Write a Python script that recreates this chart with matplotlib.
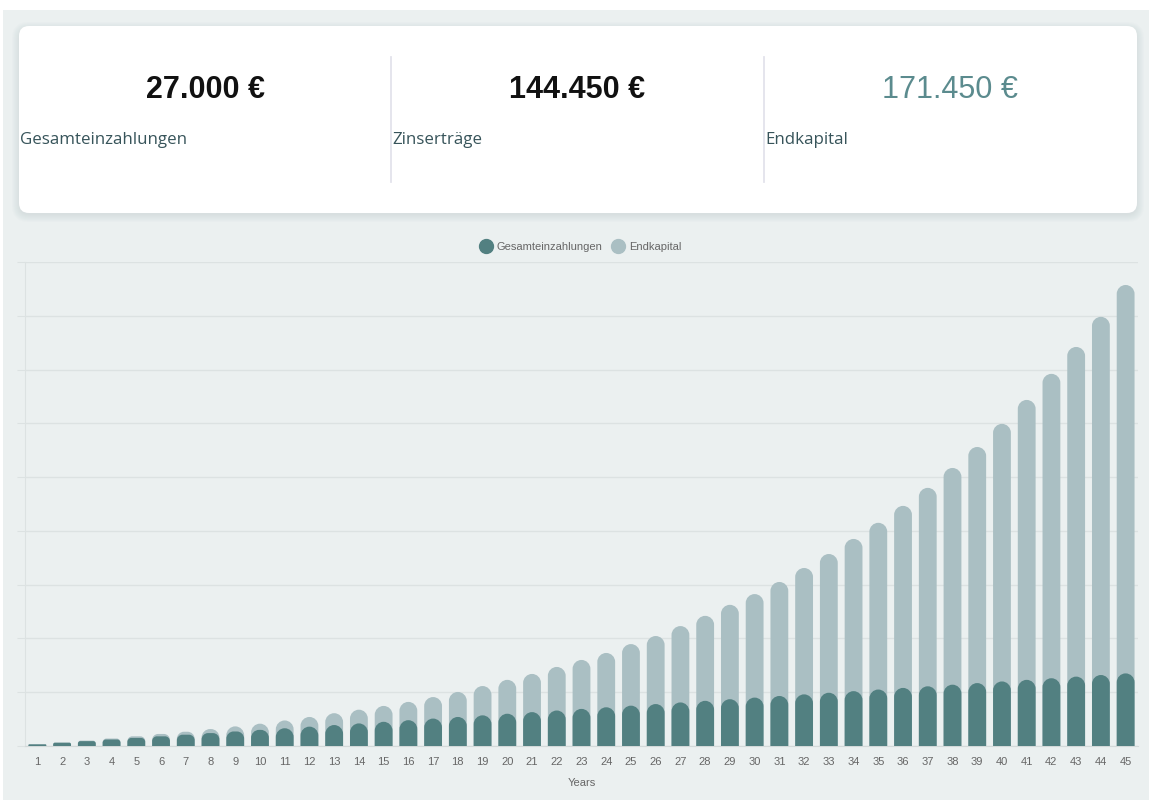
import matplotlib
matplotlib.use('Agg')
import matplotlib.pyplot as plt
from matplotlib.path import Path
from matplotlib.patches import PathPatch, FancyBboxPatch, Rectangle
from matplotlib.lines import Line2D

# data
years = list(range(1, 46))
gesamteinzahlungen = [600, 1200, 1800, 2400, 3000, 3600, 4200, 4800, 5400, 6000,
                      6600, 7200, 7800, 8400, 9000, 9600, 10200, 10800, 11400, 12000,
                      12600, 13200, 13800, 14400, 15000, 15600, 16200, 16800, 17400, 18000,
                      18600, 19200, 19800, 20400, 21000, 21600, 22200, 22800, 23400, 24000,
                      24600, 25200, 25800, 26400, 27000]
endkapital = [630, 1290, 2000, 2770, 3600, 4480, 5300, 6300, 7300, 8300,
              9500, 10800, 12200, 13500, 14900, 16400, 18200, 20100, 22300, 24600,
              26800, 29400, 32000, 34600, 37900, 40900, 44600, 48400, 52500, 56500,
              61000, 66200, 71400, 77000, 83000, 89300, 96000, 103400, 111200, 119800,
              128700, 138400, 148400, 159600, 171450]
summary_values = ['27.000 €', '144.450 €', '171.450 €']
summary_labels = ['Gesamteinzahlungen', 'Zinserträge', 'Endkapital']
legend_labels = ['Gesamteinzahlungen', 'Endkapital']

DARK = '#528081'
LIGHT = '#aabfc3'
BG = '#ebf0f0'
GRID = '#dce2e2'
TICK = '#666666'

W, H = 1149, 800
fig = plt.figure(figsize=(W / 100, H / 100), dpi=100, facecolor=BG)

# overlay in pixel units for the summary card
ov = fig.add_axes([0, 0, 1, 1])
ov.set_xlim(0, W)
ov.set_ylim(H, 0)
ov.axis('off')
ov.add_patch(Rectangle((0, 0), W, 10, fc='white', ec='none'))
ov.add_patch(Rectangle((0, 0), 3, H, fc='white', ec='none'))
for i in range(8):
    ov.add_patch(FancyBboxPatch((19 - i, 27 - i + 2), 1118 + 2 * i, 186 + 2 * i,
                                boxstyle=f'round,pad=0,rounding_size={10 + i}',
                                fc='#8d9a9d', ec='none', alpha=0.025))
ov.add_patch(FancyBboxPatch((19, 26), 1118, 187, boxstyle='round,pad=0,rounding_size=10',
                            fc='white', ec='none'))
for xd in [391, 764]:
    ov.plot([xd, xd], [57, 182], color='#e3e3ec', lw=1.3)

num_x = [205, 577, 950]
lab_x = [20, 392, 765]
num_colors = ['#111111', '#111111', '#5b8b8e']
num_weights = ['bold', 'bold', 'normal']
for v, lab, nx, lx, c, fw in zip(summary_values, summary_labels, num_x, lab_x, num_colors, num_weights):
    ov.text(nx, 90, v, ha='center', va='center', fontsize=22, color=c, fontweight=fw,
            family='Liberation Sans')
    ov.text(lx, 140, lab, ha='left', va='center', fontsize=12.2, color='#37545a',
            family='Open Sans')

# bar chart
left, right, top, bottom = 25, 1138, 262, 746
ax = fig.add_axes([left / W, 1 - bottom / H, (right - left) / W, (bottom - top) / H])
ax.set_facecolor('none')
ax.set_xlim(0.5, 45.5)
ax.set_ylim(0, 180000)
sx = (right - left) / 45.0
sy = (bottom - top) / 180000.0

K = 0.5523


def rounded(xc, w, h):
    x0, x1 = xc - w / 2, xc + w / 2
    r = min(w * sx / 2, h * sy / 2)
    rx, ry = r / sx, r / sy
    verts = [(x0, 0), (x0, h - ry), (x0, h - ry + K * ry), (x0 + rx - K * rx, h), (x0 + rx, h),
             (x1 - rx, h), (x1 - rx + K * rx, h), (x1, h - ry + K * ry), (x1, h - ry),
             (x1, 0), (x0, 0)]
    codes = [Path.MOVETO, Path.LINETO, Path.CURVE4, Path.CURVE4, Path.CURVE4,
             Path.LINETO, Path.CURVE4, Path.CURVE4, Path.CURVE4, Path.LINETO, Path.CLOSEPOLY]
    return Path(verts, codes)


for vals, col, z in [(endkapital, LIGHT, 2), (gesamteinzahlungen, DARK, 3)]:
    bars = ax.bar(years, vals, width=0.72, color=col, zorder=z)
    for b in bars:
        b.set_visible(False)
        ax.add_patch(PathPatch(rounded(b.get_x() + b.get_width() / 2, b.get_width(), b.get_height()),
                               fc=col, ec='none', zorder=z))

ax.set_yticks(range(0, 180001, 20000))
ax.yaxis.grid(True, color=GRID, lw=1)
ax.set_axisbelow(True)
ax.tick_params(axis='y', length=6, color=GRID, labelleft=False)
ax.set_xticks(years)
ax.set_xticklabels([str(y) for y in years], fontsize=8, color=TICK, family='Liberation Sans')
ax.tick_params(axis='x', length=0, pad=8)
for s in ['top', 'right']:
    ax.spines[s].set_visible(False)
ax.spines['left'].set_color(GRID)
ax.spines['bottom'].set_color('#d3d9d9')

fig.text((left + right) / 2 / W, 1 - 783 / H, 'Years', ha='center', va='center',
         fontsize=8, color=TICK, family='Liberation Sans')

handles = [Line2D([], [], marker='o', ls='none', ms=10, mfc=DARK, mec=DARK),
           Line2D([], [], marker='o', ls='none', ms=10, mfc=LIGHT, mec=LIGHT)]
fig.legend(handles, legend_labels, loc='center', bbox_to_anchor=(581 / W, 1 - 247 / H), ncol=2,
           frameon=False, handletextpad=0.45, columnspacing=0.9, handlelength=1.0,
           prop={'family': 'Liberation Sans', 'size': 8}, labelcolor=TICK)

fig.savefig('out.png', dpi=100, facecolor=BG)
